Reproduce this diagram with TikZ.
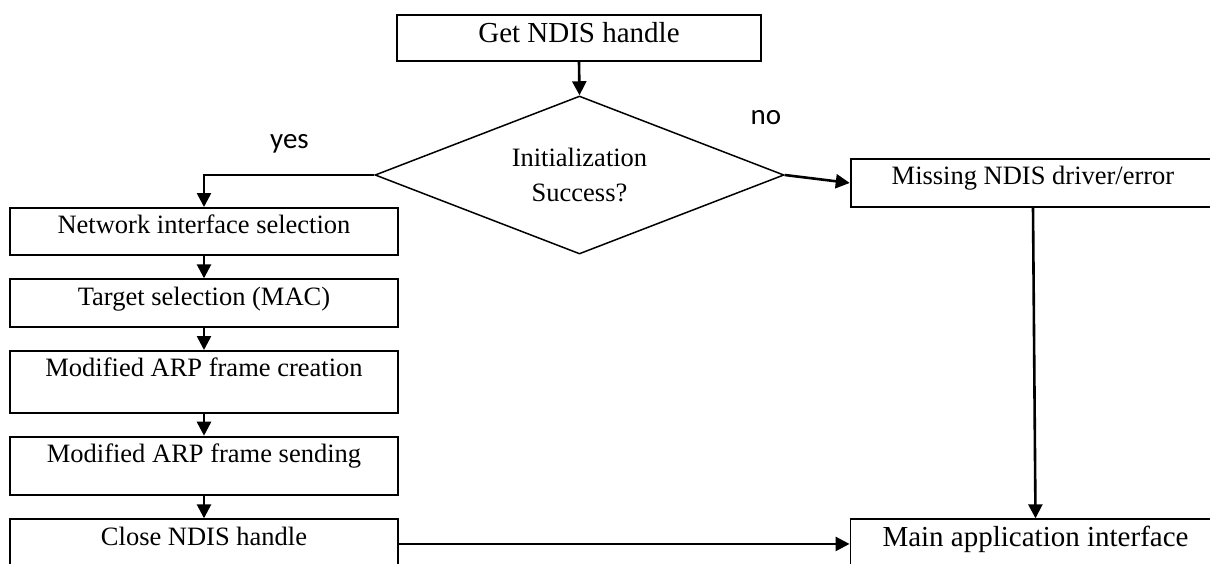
\documentclass[tikz,border=0pt]{standalone}
\usepackage{fontspec}
\setmainfont{Liberation Serif}
\newfontfamily\yesnofont{Carlito}
\usetikzlibrary{shapes.geometric}
\usetikzlibrary{arrows.meta}
\tikzset{procbox/.style={draw, line width=1.9pt, anchor=north, inner sep=0pt, text height=26pt, font=\fontsize{26.5}{30}\selectfont}}
\tikzset{bigbox/.style={procbox, text height=27.2pt, font=\fontsize{29}{32}\selectfont}}
\tikzset{flow/.style={line width=2.6pt, -{Triangle[width=14pt,length=14pt]}}}
\tikzset{branch/.style={anchor=base, font=\yesnofont\fontsize{29}{32}\selectfont}}

\begin{document}
\begin{tikzpicture}[x=1pt,y=-1pt]
\clip (0,0) rectangle (1210,563);
\node[bigbox, minimum width=364pt, text depth=18.4pt] (get) at (579,14.3) {Get NDIS handle};
\node[draw, diamond, aspect=2.6, line width=1.5pt, minimum width=409pt, minimum height=158pt, inner sep=0pt, align=center, font=\fontsize{26.5}{35}\selectfont] (init) at (579.5,175) {Initialization\\Success?};
\node[procbox, minimum width=387.4pt, text depth=21pt] (net) at (204,207) {Network interface selection};
\node[procbox, minimum width=387.4pt, text depth=21.4pt] (target) at (204,278.3) {Target selection (MAC)};
\node[procbox, minimum width=387.4pt, text depth=35.7pt] (create) at (204,350) {Modified ARP frame creation};
\node[procbox, minimum width=387.4pt, text depth=32.6pt] (send) at (204,435.7) {Modified ARP frame sending};
\node[procbox, minimum width=387.4pt, text depth=23.4pt] (close) at (204,518.3) {Close NDIS handle};
\node[procbox, minimum width=364.6pt, text height=25.7pt, text depth=21.7pt] (missing) at (1033,158.3) {Missing NDIS driver/error};
\node[bigbox, minimum width=370pt, text height=27pt, text depth=22.4pt] (main) at (1035.5,518.3) {Main application interface};
\node[branch] (yes) at (289.5,148) {yes};
\node[branch] (no) at (766,124) {no};
\draw[flow] (get.south) -- (init.north);
\draw[flow] (init.west) -| (net.north);
\draw[flow] (init.east) -- (missing.west);
\draw[flow] (net.south) -- (target.north);
\draw[flow] (target.south) -- (create.north);
\draw[flow] (create.south) -- (send.north);
\draw[flow] (send.south) -- (close.north);
\draw[flow] (missing.south) -- (main.north);
\draw[flow] (close.east) -- (main.west);
\end{tikzpicture}
\end{document}
